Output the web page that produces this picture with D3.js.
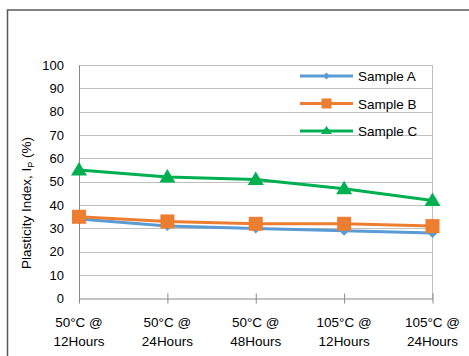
<!DOCTYPE html>
<html>
<head>
<meta charset="utf-8">
<script src="https://cdn.jsdelivr.net/npm/d3@7/dist/d3.min.js"></script>
<style>
  body { margin: 0; background: #fff; }
  svg { display: block; font-family: "Liberation Sans", Arial, sans-serif; }
</style>
</head>
<body>
<div id="chart"></div>
<script>
const categories = [['50°C @', '12Hours'], ['50°C @', '24Hours'], ['50°C @', '48Hours'], ['105°C @', '12Hours'], ['105°C @', '24Hours']];
const sampleA = [34, 31, 30, 29, 28];
const sampleB = [35, 33, 32, 32, 31];
const sampleC = [55, 52, 51, 47, 42];
const seriesNames = ['Sample A', 'Sample B', 'Sample C'];
const yTicks = [0, 10, 20, 30, 40, 50, 60, 70, 80, 90, 100];

const series = [
  { name: seriesNames[0], values: sampleA, color: '#5B9BD5', marker: 'diamond' },
  { name: seriesNames[1], values: sampleB, color: '#ED7D31', marker: 'square' },
  { name: seriesNames[2], values: sampleC, color: '#00B050', marker: 'triangle' }
];

const width = 469;
const height = 356;
const plot = { left: 79, right: 432.5, top: 65, bottom: 298.5 };

const svg = d3.select('#chart').append('svg').attr('width', width).attr('height', height);

// outer chart frame
svg.append('rect')
  .attr('x', 7.5).attr('y', 10)
  .attr('width', width).attr('height', height)
  .attr('fill', 'none').attr('stroke', '#595959').attr('stroke-width', 1.5);

const x = d3.scalePoint().domain(d3.range(categories.length)).range([plot.left, plot.right]);
const y = d3.scaleLinear().domain([0, 100]).range([plot.bottom, plot.top]);

// gridlines
svg.append('g')
  .selectAll('line')
  .data(yTicks.slice(1))
  .join('line')
  .attr('x1', plot.left).attr('x2', plot.right)
  .attr('y1', (d) => Math.round(y(d)) + 0.5).attr('y2', (d) => Math.round(y(d)) + 0.5)
  .attr('stroke', '#C0C0C0').attr('stroke-width', 1);

// plot area right border
svg.append('line')
  .attr('x1', plot.right).attr('x2', plot.right)
  .attr('y1', plot.top).attr('y2', plot.bottom)
  .attr('stroke', '#C0C0C0');

// y axis
const yAxis = svg.append('g')
  .attr('transform', `translate(${plot.left},0)`)
  .call(d3.axisLeft(y).tickValues(yTicks).tickSize(0).tickPadding(15));
yAxis.select('.domain').attr('stroke', '#898989');
yAxis.selectAll('text').attr('font-size', 13).attr('fill', '#000').attr('font-family', null);

// x axis
const xAxis = svg.append('g')
  .attr('transform', `translate(0,${plot.bottom})`)
  .call(d3.axisBottom(x).tickSize(5).tickSizeOuter(0).tickFormat(() => ''));
xAxis.select('.domain').attr('stroke', '#898989');
xAxis.selectAll('.tick line').attr('stroke', '#898989').attr('y1', -5);

const xLabels = svg.append('g')
  .selectAll('text')
  .data(categories)
  .join('text')
  .attr('x', (d, i) => x(i))
  .attr('text-anchor', 'middle')
  .attr('font-size', 13.5)
  .attr('fill', '#000');
xLabels.append('tspan').attr('x', (d, i) => x(i)).attr('y', 327).text((d) => d[0]);
xLabels.append('tspan').attr('x', (d, i) => x(i)).attr('y', 346).text((d) => d[1]);

// y axis title
const yTitle = svg.append('text')
  .attr('transform', 'translate(31,203) rotate(-90)')
  .attr('text-anchor', 'middle')
  .attr('font-size', 13.5)
  .attr('fill', '#000');
yTitle.append('tspan').text('Plasticity Index, I');
yTitle.append('tspan').attr('font-size', 9).attr('dy', 3).text('P');
yTitle.append('tspan').attr('dy', -3).text(' (%)');

function drawMarker(g, type, color) {
  if (type === 'diamond') {
    g.append('path').attr('d', 'M0,-5L5,0L0,5L-5,0Z').attr('fill', color);
  } else if (type === 'square') {
    g.append('rect').attr('x', -7).attr('y', -7).attr('width', 14).attr('height', 14).attr('fill', color);
  } else {
    g.append('path').attr('d', 'M0,-8L8,5.5L-8,5.5Z').attr('fill', color);
  }
}

const line = d3.line().x((d, i) => x(i)).y((d) => y(d));

series.forEach((s) => {
  const g = svg.append('g');
  g.append('path')
    .attr('d', line(s.values))
    .attr('fill', 'none')
    .attr('stroke', s.color)
    .attr('stroke-width', 3)
    .attr('stroke-linejoin', 'round');
  s.values.forEach((v, i) => {
    const m = g.append('g').attr('transform', `translate(${x(i)},${y(v)})`);
    drawMarker(m, s.marker, s.color);
  });
});

// legend
const legend = svg.append('g');
series.forEach((s, i) => {
  const ly = 76 + i * 27.5;
  const item = legend.append('g');
  item.append('line')
    .attr('x1', 300).attr('x2', 353)
    .attr('y1', ly).attr('y2', ly)
    .attr('stroke', s.color).attr('stroke-width', 3);
  const m = item.append('g').attr('transform', `translate(326.5,${ly})`);
  if (s.marker === 'diamond') {
    m.append('path').attr('d', 'M0,-3.5L3.5,0L0,3.5L-3.5,0Z').attr('fill', s.color);
  } else if (s.marker === 'square') {
    m.append('rect').attr('x', -5).attr('y', -5).attr('width', 10).attr('height', 10).attr('fill', s.color);
  } else {
    m.append('path').attr('d', 'M0,-5L5.5,3L-5.5,3Z').attr('fill', s.color);
  }
  item.append('text')
    .attr('x', 358).attr('y', ly + 5)
    .attr('font-size', 13.5)
    .attr('fill', '#000')
    .text(s.name);
});
</script>
</body>
</html>
